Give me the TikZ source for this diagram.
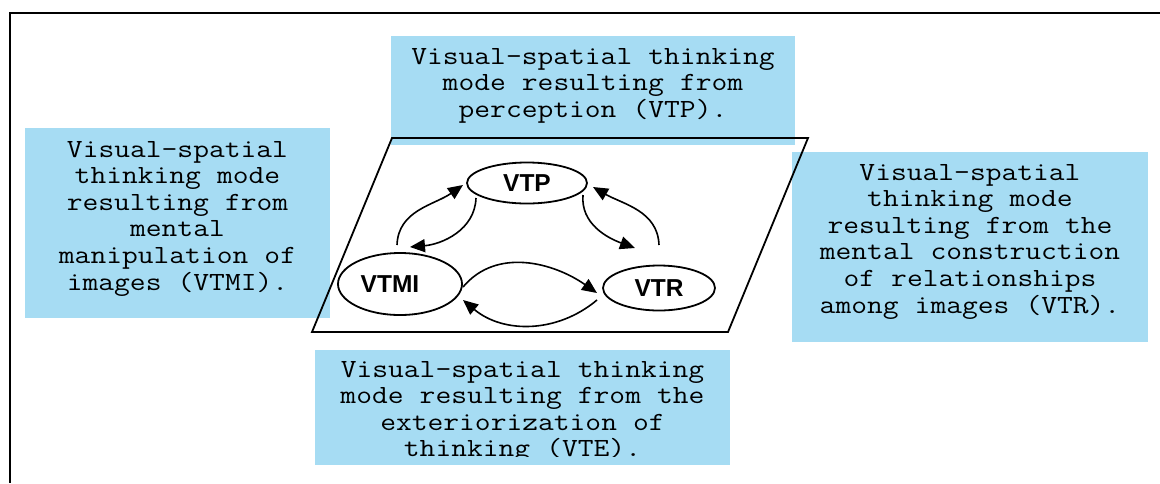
\documentclass[tikz,border=0pt]{standalone}
\usepackage{fontspec}
\setmainfont{Liberation Sans}
\newfontfamily\boxmono[FakeStretch=1.17]{Latin Modern Mono}
\newfontfamily\ellsans{Liberation Sans}
\newcommand\monospacing{\spaceskip=16.1pt\relax}
\usetikzlibrary{shapes.geometric,arrows.meta,calc}
\definecolor{boxblue}{RGB}{166,220,243}
\tikzset{
  x=1pt, y=1pt,
  infobox/.style={fill=boxblue, draw=none},
  infotext/.style={inner sep=0pt, align=center, anchor=base,
    font=\boxmono\fontsize{26.2pt}{26.6pt}\selectfont},
  modeell/.style={ellipse, draw, line width=1.8pt, inner sep=0pt,
    font=\ellsans\bfseries\fontsize{24.5pt}{24.5pt}\selectfont},
  cyc/.style={line width=1.6pt, -{Triangle[length=15pt,width=13pt]}},
  frameline/.style={line width=2pt},
}
\begin{document}
\begin{tikzpicture}
\useasboundingbox (0,0) rectangle (1160,-483);
% frame
\draw[frameline] (1160,-12.5) -- (10,-12.5) -- (10,-483);
% boxes
\fill[infobox] (391,-36) rectangle (795,-145);
\fill[infobox] (25,-128) rectangle (330,-318);
\fill[infobox] (792,-152) rectangle (1148,-342);
\fill[infobox] (315,-350) rectangle (730,-465);
\node[infotext, text width=404pt] (ttop) at (593,-64)
  {\monospacing Visual-spatial thinking\\mode resulting from\\perception (VTP).};
\node[infotext, text width=305pt] (tleft) at (177.5,-157)
  {\monospacing Visual-spatial\\thinking mode\\resulting from\\mental\\manipulation of\\images (VTMI).};
\node[infotext, text width=356pt] (tright) at (970,-180)
  {\monospacing Visual-spatial\\thinking mode\\resulting from the\\mental construction\\of relationships\\among images (VTR).};
\begin{scope}
\clip (315,-350) rectangle (730,-456);
\node[infotext, text width=415pt] (tbottom) at (522.5,-377)
  {\monospacing Visual-spatial thinking\\mode resulting from the\\exteriorization of\\thinking (VTE).};
\end{scope}
% plane
\draw[line width=1.8pt, line join=miter] (312,-332) -- (392,-138) -- (808,-138) -- (728,-332) -- cycle;
% modes
\node[modeell, minimum width=120pt, minimum height=41pt] (vtp) at (527,-183) {VTP};
\node[modeell, minimum width=124pt, minimum height=62pt] (vtmi) at (400,-284) {VTMI\hspace*{20pt}};
\node[modeell, minimum width=112pt, minimum height=45pt] (vtr) at (659,-288) {\raisebox{-3pt}{VTR}};
% cycle arrows
\draw[cyc] ($(vtmi.center)+(-3,39)$) to[out=88,in=215] ($(vtp.center)+(-64,-2)$);
\draw[cyc] ($(vtp.center)+(-51,-15)$) to[out=-92,in=5] ($(vtmi.center)+(10,37)$);
\draw[cyc] ($(vtp.center)+(56,-12)$) to[out=-95,in=160] ($(vtr.center)+(-24,40)$);
\draw[cyc] ($(vtr.center)+(0,43)$) to[out=92,in=-30] ($(vtp.center)+(66,-4)$);
\draw[cyc] ($(vtmi.center)+(63,-3)$) to[out=50,in=145] ($(vtr.center)+(-62,-5)$);
\draw[cyc] ($(vtr.center)+(-62,-12)$) to[out=-140,in=-40] ($(vtmi.center)+(63,-16)$);
\end{tikzpicture}
\end{document}
